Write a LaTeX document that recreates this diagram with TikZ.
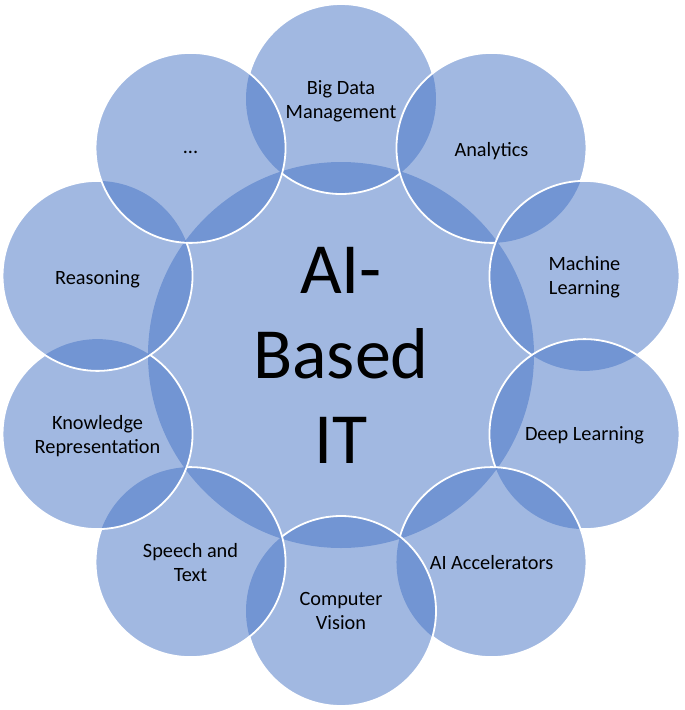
\documentclass[tikz,border=0pt]{standalone}
\usepackage{fontspec}
\setmainfont{Carlito}
\usetikzlibrary{calc}
\definecolor{venn}{HTML}{4472C4}
\begin{document}
\begin{tikzpicture}[x=1pt,y=-1pt,
  disc/.style={fill=venn, fill opacity=0.5, draw=none},
  rim/.style={draw=white, line width=1.8},
  lbl/.style={text=black, align=center, inner sep=0pt, font=\fontsize{20.3}{24}\selectfont},
  bigl/.style={text=black, align=center, inner sep=0pt, font=\fontsize{72}{85}\selectfont}]
\useasboundingbox (0,0) rectangle (685,710);
\def\rr{95}
\def\outside#1{\clip (-10,-10) -- (-10,720) -- (700,720) -- (700,-10) -- cycle (#1) circle (\rr);}
\coordinate (c) at (341,355);
\foreach \k in {0,...,9}{
  \pgfmathsetmacro{\ang}{-90+36*\k}
  \coordinate (p\k) at ($(c)+(\ang:256)$);
}
% central circle
\fill[disc] (c) circle (193);
% outer circles, clockwise from top; each rim hidden under later circles
\fill[disc] (p0) circle (\rr);
\begin{scope}\outside{p1}\outside{p2}\outside{p3}\outside{p4}\outside{p5}\outside{p6}\outside{p7}\outside{p8}\outside{p9}\draw[rim] (p0) circle (\rr);\end{scope}
\fill[disc] (p1) circle (\rr);
\begin{scope}\outside{p2}\outside{p3}\outside{p4}\outside{p5}\outside{p6}\outside{p7}\outside{p8}\outside{p9}\draw[rim] (p1) circle (\rr);\end{scope}
\fill[disc] (p2) circle (\rr);
\begin{scope}\outside{p3}\outside{p4}\outside{p5}\outside{p6}\outside{p7}\outside{p8}\outside{p9}\draw[rim] (p2) circle (\rr);\end{scope}
\fill[disc] (p3) circle (\rr);
\begin{scope}\outside{p4}\outside{p5}\outside{p6}\outside{p7}\outside{p8}\outside{p9}\draw[rim] (p3) circle (\rr);\end{scope}
\fill[disc] (p4) circle (\rr);
\begin{scope}\outside{p5}\outside{p6}\outside{p7}\outside{p8}\outside{p9}\draw[rim] (p4) circle (\rr);\end{scope}
\fill[disc] (p5) circle (\rr);
\begin{scope}\outside{p6}\outside{p7}\outside{p8}\outside{p9}\draw[rim] (p5) circle (\rr);\end{scope}
\fill[disc] (p6) circle (\rr);
\begin{scope}\outside{p7}\outside{p8}\outside{p9}\draw[rim] (p6) circle (\rr);\end{scope}
\fill[disc] (p7) circle (\rr);
\begin{scope}\outside{p8}\outside{p9}\draw[rim] (p7) circle (\rr);\end{scope}
\fill[disc] (p8) circle (\rr);
\begin{scope}\outside{p9}\draw[rim] (p8) circle (\rr);\end{scope}
\fill[disc] (p9) circle (\rr);
\draw[rim] (p9) circle (\rr);
% labels
\node[bigl] (center) at (c) {AI-\\Based\\IT};
\node[lbl] (bigdata) at ($(p0)+(0,2)$) {Big Data\\Management};
\node[lbl] (analytics) at ($(p1)+(0,3)$) {Analytics};
\node[lbl] (ml) at ($(p2)+(0,1)$) {Machine\\Learning};
\node[lbl] (dl) at ($(p3)+(0,1)$) {Deep Learning};
\node[lbl] (accel) at ($(p4)+(0,0)$) {AI Accelerators};
\node[lbl] (cv) at ($(p5)+(0,0)$) {Computer\\Vision};
\node[lbl] (speech) at ($(p6)+(0,0)$) {Speech and\\Text};
\node[lbl] (know) at ($(p7)+(0,2)$) {Knowledge\\Representation};
\node[lbl] (reason) at ($(p8)+(0,3)$) {Reasoning};
\node[lbl] (more) at ($(p9)+(0,5)$) {...};
\end{tikzpicture}
\end{document}
